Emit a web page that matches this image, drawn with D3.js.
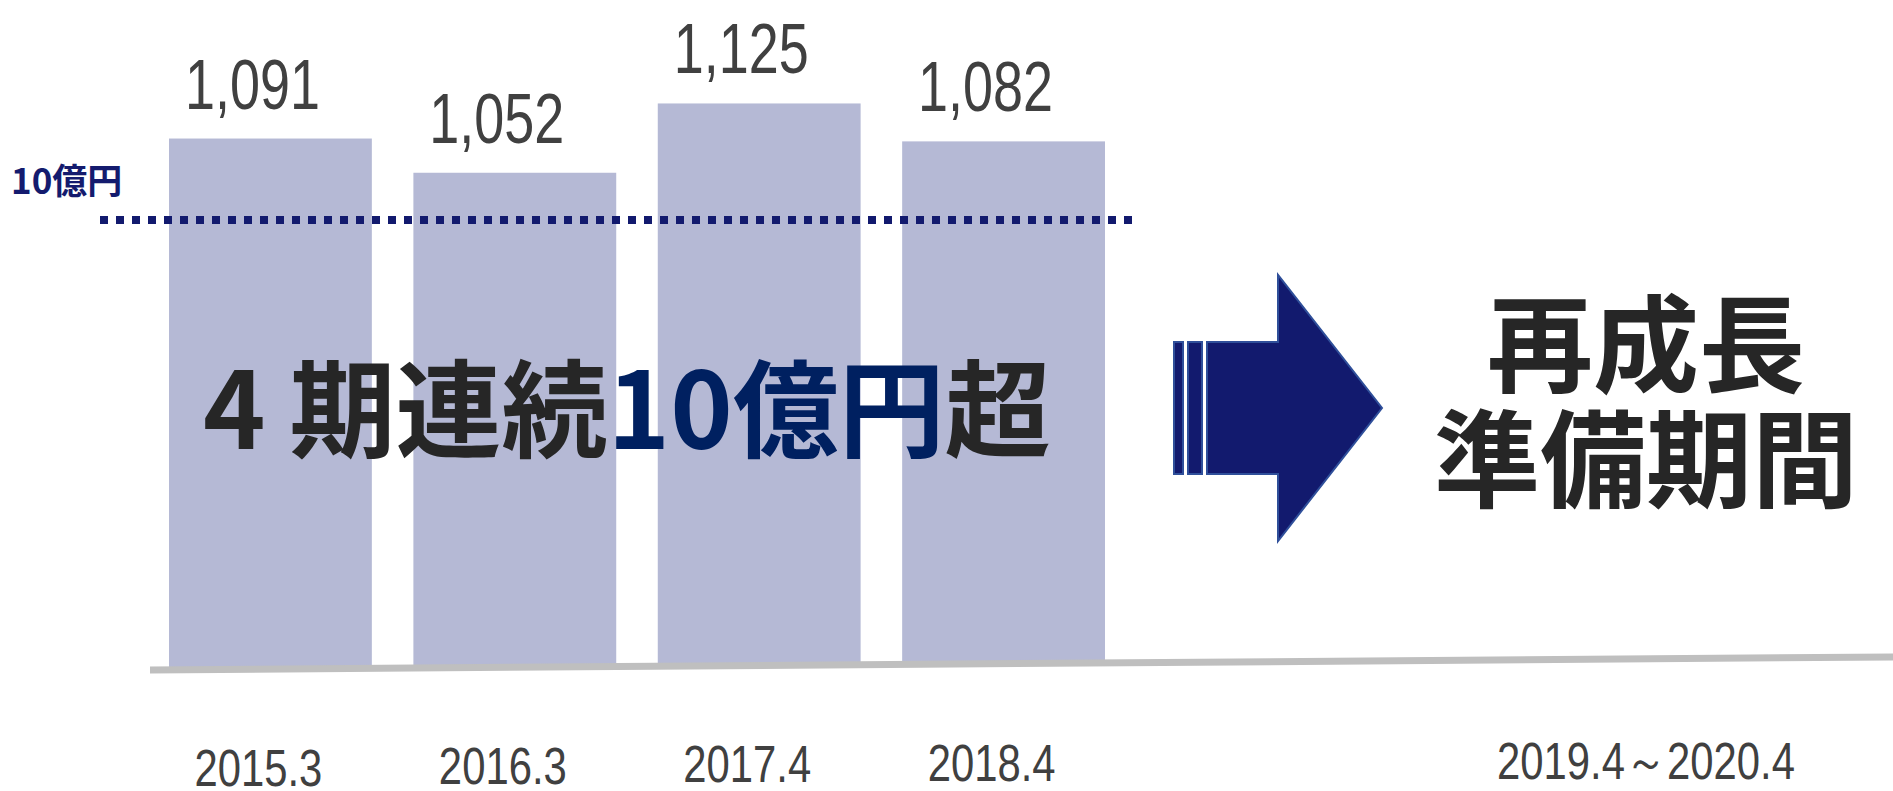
<!DOCTYPE html>
<html>
<head>
<meta charset="utf-8">
<script src="https://cdn.jsdelivr.net/npm/d3@7"></script>
<style>
  html, body { margin: 0; padding: 0; background: #fff; }
  svg { display: block; }
</style>
</head>
<body>
<script>
// data
const periods = ["2015.3", "2016.3", "2017.4", "2018.4"];
const sales = [1091, 1052, 1125, 1082];          // 百万円
const futurePeriod = "2019.4～2020.4";
const thresholdValue = 1000;
const thresholdLabel = "10億円";
const headline = [
  { text: "4 期連続", color: "#262626" },
  { text: "10億円", color: "#002060" },
  { text: "超", color: "#262626" }
];
const futureText = ["再成長", "準備期間"];

const width = 1893;
const height = 791;

// no narrow font installed, so squeeze Liberation Sans a bit
const numFont = "'Liberation Sans', Arial, sans-serif";
const jpFont = "'Noto Sans CJK JP', 'Noto Sans', sans-serif";

let svg = d3.select('body').append('svg')
            .attr('width', width)
            .attr('height', height);

let x = d3.scaleBand()
          .domain(periods)
          .range([169, 1105])
          .paddingInner(0.17);

// the floor line is slightly tilted
let baseY = d3.scaleLinear()
              .domain([150, width])
              .range([670, 657]);

let h = d3.scaleLinear()
          .domain([517, 1125])
          .range([0, 562]);

const rows = periods.map((p, i) => ({ period: p, value: sales[i] }));
const cx = d => x(d.period) + x.bandwidth() / 2;

svg.selectAll('rect.bar')
   .data(rows)
   .enter()
   .append('rect')
   .attr('class', 'bar')
   .attr('x', d => x(d.period))
   .attr('y', d => baseY(cx(d)) - h(d.value))
   .attr('width', x.bandwidth())
   .attr('height', d => h(d.value))
   .attr('fill', '#b5b9d5');

// floor
svg.append('line')
   .attr('x1', 150).attr('x2', width)
   .attr('y1', baseY(150)).attr('y2', baseY(width))
   .attr('stroke', '#bfbfbf')
   .attr('stroke-width', 7);

// 10億円 line
const lineX0 = x.range()[0] - 69;
const lineX1 = x.range()[1] + 27;
const lineY = baseY((lineX0 + lineX1) / 2) - h(thresholdValue);
svg.append('line')
   .attr('x1', lineX0).attr('x2', lineX1)
   .attr('y1', lineY).attr('y2', lineY)
   .attr('stroke', '#121a6e')
   .attr('stroke-width', 8)
   .attr('stroke-dasharray', '8,8');

svg.append('text')
   .attr('x', 11)
   .attr('y', lineY - 26)
   .attr('font-family', jpFont)
   .attr('font-size', 35)
   .attr('font-weight', 700)
   .attr('fill', '#141b6e')
   .text(thresholdLabel);

// value labels
svg.selectAll('text.value')
   .data(rows)
   .enter()
   .append('text')
   .attr('class', 'value')
   .attr('transform', d => `translate(${cx(d) - 18},${baseY(cx(d)) - h(d.value) - 30}) scale(0.76,1)`)
   .attr('text-anchor', 'middle')
   .attr('font-family', numFont)
   .attr('font-size', 71)
   .attr('fill', '#404040')
   .text(d => d3.format(',')(d.value));

// period labels
svg.selectAll('text.period')
   .data(rows)
   .enter()
   .append('text')
   .attr('class', 'period')
   .attr('transform', d => `translate(${cx(d) - 12},${baseY(cx(d)) + 117}) scale(0.82,1)`)
   .attr('text-anchor', 'middle')
   .attr('font-family', numFont)
   .attr('font-size', 51)
   .attr('fill', '#404040')
   .text(d => d.period);

const rightCx = 1646;
svg.append('text')
   .attr('transform', `translate(${rightCx},${baseY(rightCx) + 120}) scale(0.82,1)`)
   .attr('text-anchor', 'middle')
   .attr('font-family', numFont)
   .attr('font-size', 51)
   .attr('fill', '#404040')
   .text(futurePeriod);

// headline over the bars
let head = svg.append('text')
   .attr('x', 203)
   .attr('y', 449)
   .attr('font-family', jpFont)
   .attr('font-size', 106)
   .attr('font-weight', 700);
head.selectAll('tspan')
    .data(headline)
    .enter()
    .append('tspan')
    .attr('fill', d => d.color)
    .text(d => d.text);

// arrow
const arrow = svg.append('g')
   .attr('fill', '#121a6e')
   .attr('stroke', '#2f4f9a')
   .attr('stroke-width', 2);
arrow.append('rect').attr('x', 1174).attr('y', 342).attr('width', 9).attr('height', 132);
arrow.append('rect').attr('x', 1188).attr('y', 342).attr('width', 14).attr('height', 132);
arrow.append('path')
   .attr('d', 'M1207,342 L1278,342 L1278,275 L1382,408 L1278,541 L1278,474 L1207,474 Z');

svg.selectAll('text.future')
   .data(futureText)
   .enter()
   .append('text')
   .attr('class', 'future')
   .attr('x', rightCx)
   .attr('y', (d, i) => 384 + i * 115)
   .attr('text-anchor', 'middle')
   .attr('font-family', jpFont)
   .attr('font-size', 106)
   .attr('font-weight', 700)
   .attr('fill', '#262626')
   .text(d => d);
</script>
</body>
</html>
